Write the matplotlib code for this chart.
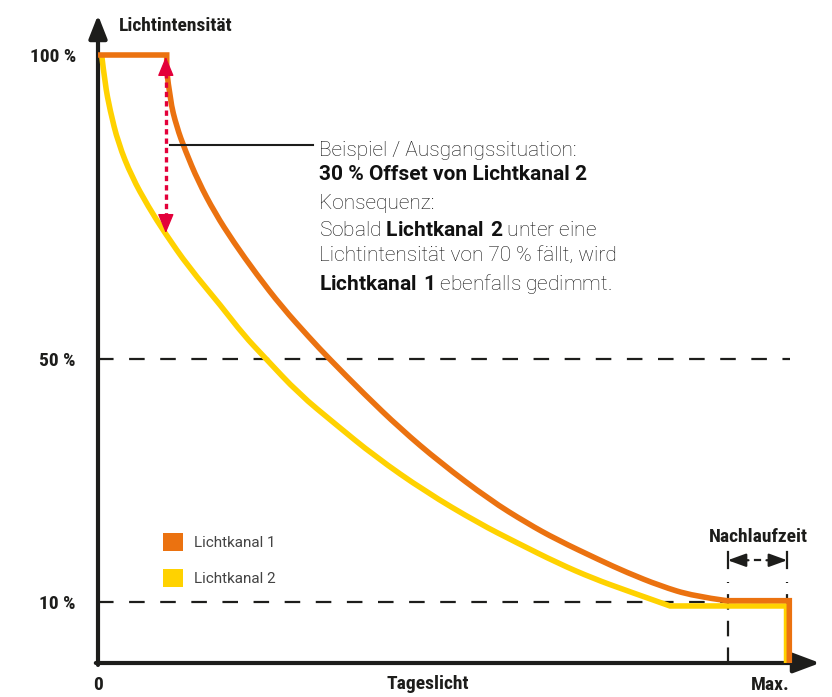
import matplotlib.pyplot as plt
from matplotlib.patches import Patch, PathPatch
from matplotlib.path import Path

# Lichtkanal 1 (orange), x = Tageslicht (0..Max=100), y = Lichtintensität in %
ch1_x = [0, 9.93, 9.93, 10.4, 11.37, 12.57, 14.49, 16.91, 19.55, 22.93, 26.55, 30.64,
         33.28, 38.5, 43.64, 49.42, 56.65, 62.0, 66.29, 72.54, 76.4, 81.21, 86.03,
         90.85, 99.9, 99.9]
ch1_y = [100, 100, 97.5, 92.6, 88.2, 84.4, 79.2, 74.0, 69.3, 63.9, 58.6, 53.4,
         50.2, 44.2, 38.6, 33.0, 26.8, 23.0, 20.3, 16.9, 14.9, 12.7, 11.0,
         10.25, 10.25, 0]

# Lichtkanal 2 (gelb)
ch2_x = [0.53, 1.01, 1.73, 2.93, 4.87, 7.27, 9.68, 13.05, 17.88, 21.0, 24.13, 29.0,
         34.3, 40.0, 47.3, 55.0, 60.5, 66.5, 71.58, 76.4, 82.66, 99.5, 99.5]
ch2_y = [100, 95.3, 90.95, 85.5, 80.0, 75.05, 70.7, 65.2, 58.6, 54.0, 50.21, 44.3,
         39.3, 34.0, 28.2, 23.0, 19.8, 16.4, 13.9, 11.9, 9.38, 9.38, 0]

ref_levels = [50, 10]
y_ticks = [10, 50, 100]
y_ticklabels = ['10 %', '50 %', '100 %']
nachlauf = [91.0, 99.6]
offset_x = 9.8
offset_range = [70.7, 99.7]

ORANGE = '#EB7210'
YELLOW = '#FFD200'
RED = '#E3003A'
BLACK = '#1d1d1b'
BOLD_FONT = ['Roboto Condensed', 'Liberation Sans Narrow', 'Roboto', 'DejaVu Sans']
TEXT_FONT = ['Roboto', 'DejaVu Sans']

plt.rcParams['mathtext.fontset'] = 'custom'
plt.rcParams['mathtext.rm'] = 'Roboto'
plt.rcParams['mathtext.bf'] = 'Roboto:bold'


def curve_path(xs, ys):
    # straight pieces stay straight, the sloped runs are drawn as smooth quadratic splines
    pts = list(zip(xs, ys))
    verts, codes = [pts[0]], [Path.MOVETO]
    i, n = 0, len(pts)
    while i < n - 1:
        (x0, y0), (x1, y1) = pts[i], pts[i + 1]
        if x0 == x1 or y0 == y1:
            verts.append(pts[i + 1])
            codes.append(Path.LINETO)
            i += 1
            continue
        j = i + 1
        while j < n - 1 and pts[j][0] != pts[j + 1][0] and pts[j][1] != pts[j + 1][1]:
            j += 1
        run = pts[i:j + 1]
        if len(run) == 2:
            verts.append(run[1])
            codes.append(Path.LINETO)
        else:
            for k in range(1, len(run) - 2):
                mid = ((run[k][0] + run[k + 1][0]) / 2, (run[k][1] + run[k + 1][1]) / 2)
                verts += [run[k], mid]
                codes += [Path.CURVE3, Path.CURVE3]
            verts += [run[-2], run[-1]]
            codes += [Path.CURVE3, Path.CURVE3]
        i = j
    return Path(verts, codes)


fig = plt.figure(figsize=(8.32, 6.97), dpi=100)
ax = fig.add_axes([98 / 832, 34 / 697, 722 / 832, 648 / 697])
ax.set_xlim(0, 722 / 6.92)
ax.set_ylim(0, 648 / 6.08)
for s in ax.spines.values():
    s.set_visible(False)

# axis arrows
ax.annotate('', xy=(0, 1), xytext=(0, -0.003), xycoords='axes fraction',
            arrowprops=dict(arrowstyle='-|>,head_length=1.4,head_width=0.55',
                            color=BLACK, lw=3, shrinkA=0, shrinkB=0))
ax.annotate('', xy=(1, 0), xytext=(-0.003, 0), xycoords='axes fraction',
            arrowprops=dict(arrowstyle='-|>,head_length=1.6,head_width=0.6',
                            color=BLACK, lw=3, shrinkA=0, shrinkB=0))

# reference lines
for lvl in ref_levels:
    ax.plot([0, 100], [lvl, lvl], color=BLACK, lw=1.6, dashes=(7, 7), zorder=1)
for xv in nachlauf:
    ax.plot([xv, xv], [0, 13.3], color=BLACK, lw=1.6, dashes=(7, 5), zorder=1)
    ax.plot([xv, xv], [15.6, 18.3], color=BLACK, lw=1.6, zorder=1)

# curves
ax.add_patch(PathPatch(curve_path(ch2_x, ch2_y), fill=False, edgecolor=YELLOW, lw=4,
                       joinstyle='miter', capstyle='butt', zorder=3))
ax.add_patch(PathPatch(curve_path(ch1_x, ch1_y), fill=False, edgecolor=ORANGE, lw=4,
                       joinstyle='miter', capstyle='butt', zorder=4))

# red offset arrow
ax.plot([offset_x, offset_x], [offset_range[0] + 2.5, offset_range[1] - 2.5],
        color=RED, lw=2.4, dashes=(1.6, 1.2), zorder=5)
for a, b in [(offset_range[1], offset_range[1] - 3), (offset_range[0], offset_range[0] + 3)]:
    ax.annotate('', xy=(offset_x, a), xytext=(offset_x, b),
                arrowprops=dict(arrowstyle='-|>,head_length=1.2,head_width=0.5',
                                color=RED, lw=1, shrinkA=0, shrinkB=0), zorder=6)

# annotation
ax.plot([10.4, 31.07], [85.2, 85.2], color=BLACK, lw=1.5, zorder=5)
text_lines = [
    ("Beispiel / Ausgangssituation:", 'light'),
    ("30 % Offset von Lichtkanal 2", 'bold'),
    ("Konsequenz:", 'light'),
    (r"Sobald $\mathbf{Lichtkanal\ 2}$ unter eine", 'light'),
    ("Lichtintensität von 70 % fällt, wird", 'light'),
    (r"$\mathbf{Lichtkanal\ 1}$ ebenfalls gedimmt.", 'light'),
]
line_y = [84.7, 80.6, 75.9, 71.5, 67.3, 62.9]
for (txt, w), yy in zip(text_lines, line_y):
    ax.text(31.9, yy, txt, fontsize=15, fontweight=w, family=TEXT_FONT,
            color='#111111', ha='left', va='center_baseline')

# Nachlaufzeit dimension
mid = sum(nachlauf) / 2
ax.annotate('', xy=(nachlauf[0], 16.9), xytext=(mid - 1.3, 16.9),
            arrowprops=dict(arrowstyle='-|>,head_length=1.1,head_width=0.4',
                            color=BLACK, lw=1.6, shrinkA=0, shrinkB=0))
ax.annotate('', xy=(nachlauf[1], 16.9), xytext=(mid + 1.3, 16.9),
            arrowprops=dict(arrowstyle='-|>,head_length=1.1,head_width=0.4',
                            color=BLACK, lw=1.6, shrinkA=0, shrinkB=0))
ax.plot([mid - 0.4, mid + 0.4], [16.9, 16.9], color=BLACK, lw=1.6)
ax.text(95.4, 20.8, 'Nachlaufzeit', fontsize=14, fontweight='bold', family=BOLD_FONT,
        color=BLACK, ha='center', va='center')

# ticks and labels
ax.set_yticks(y_ticks, y_ticklabels)
ax.set_xticks([0, 100], ['0', 'Max.'])
ax.tick_params(length=0)
ax.tick_params(axis='y', pad=16)
ax.tick_params(axis='x', pad=9)
for lab in ax.get_yticklabels() + ax.get_xticklabels():
    lab.set_fontfamily(BOLD_FONT)
    lab.set_fontweight('bold')
    lab.set_fontsize(14)
    lab.set_color(BLACK)
ax.get_xticklabels()[1].set_ha('right')
ax.set_xlabel('Tageslicht', fontsize=14, fontweight='bold', family=BOLD_FONT, color=BLACK)
ax.xaxis.set_label_coords((428 - 98) / 722, -0.019)
ax.xaxis.label.set_va('top')
ax.text((176 - 98) / 722, (663 - 26) / 648, 'Lichtintensität', transform=ax.transAxes,
        fontsize=14, fontweight='bold', family=BOLD_FONT, color=BLACK,
        ha='center', va='center')

# legend
handles = [Patch(facecolor=ORANGE, label='Lichtkanal 1'),
           Patch(facecolor=YELLOW, label='Lichtkanal 2')]
leg = ax.legend(handles=handles, loc='upper left',
                bbox_to_anchor=(163 / 832, 1 - 533 / 697), bbox_transform=fig.transFigure,
                frameon=False, borderpad=0, borderaxespad=0, handlelength=1.3,
                handleheight=1.4, handletextpad=0.7, labelspacing=1.2,
                prop={'family': TEXT_FONT, 'size': 11})
for t in leg.get_texts():
    t.set_color('#444444')

fig.savefig('out.png', dpi=100)
